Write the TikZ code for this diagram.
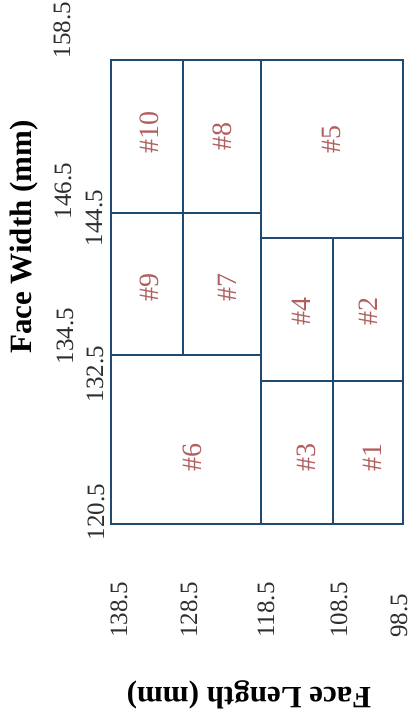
\documentclass[tikz,border=0pt]{standalone}
\usepackage{fontspec}
\setmainfont{Liberation Serif}

\begin{document}
\begin{tikzpicture}[x=1pt, y=-1pt]

\definecolor{gridline}{HTML}{1F4A72}
\definecolor{gridtext}{HTML}{B25F5F}
\definecolor{ticktext}{HTML}{2E2E2E}

\tikzset{
  cellframe/.style={draw=gridline, line width=2.7pt},
  celllabel/.style={text=gridtext, rotate=90, inner sep=0pt,
    font=\fontsize{28}{28}\selectfont},
  ticklabel/.style={text=ticktext, rotate=90, inner sep=0pt,
    font=\fontsize{25}{25}\selectfont},
  axistitle/.style={inner sep=0pt, font=\bfseries\fontsize{31}{31}\selectfont}
}

\useasboundingbox (0,0) rectangle (414,717);

% The measuring cells: corners in face length (across) and face width (down).
\foreach \xa/\ya/\xb/\yb/\cellno in {
  111/60/183/213/10,
  183/60/261/213/8,
  261/60/403/238/5,
  111/213/183/355/9,
  183/213/261/355/7,
  261/238/333/381/4,
  333/238/403/381/2,
  111/355/261/524/6,
  261/381/333/524/3,
  333/381/403/524/1}
  \draw[cellframe] (\xa,\ya) rectangle (\xb,\yb);

% Cell numbers.
\foreach \cellno/\lx/\ly in {
  10/149/132, 8/222/136, 5/331/139,
  9/149/287, 7/227/287,
  4/301/311, 2/368/311,
  6/192/457, 3/306/457, 1/372/457}
  \node[celllabel] (cell\cellno) at (\lx,\ly) {\#\cellno};

% Face width ticks, in two staggered columns.
\foreach \val/\tx/\ty in {
  158.5/62/30, 146.5/63/191, 134.5/65/336,
  144.5/94/218, 132.5/95/374, 120.5/96/512}
  \node[ticklabel] (fw\tx\ty) at (\tx,\ty) {\val};

% Face length ticks, one per column boundary.
\foreach \val/\tx in {
  138.5/119, 128.5/189, 118.5/266, 108.5/339, 98.5/399}
  \node[ticklabel, anchor=west] (fl\tx) at (\tx,638) {\val};

\node[axistitle, rotate=90]  (fwtitle) at (24,237) {Face Width (mm)};
\node[axistitle, rotate=180] (fltitle) at (249,695) {Face Length (mm)};

\end{tikzpicture}
\end{document}
